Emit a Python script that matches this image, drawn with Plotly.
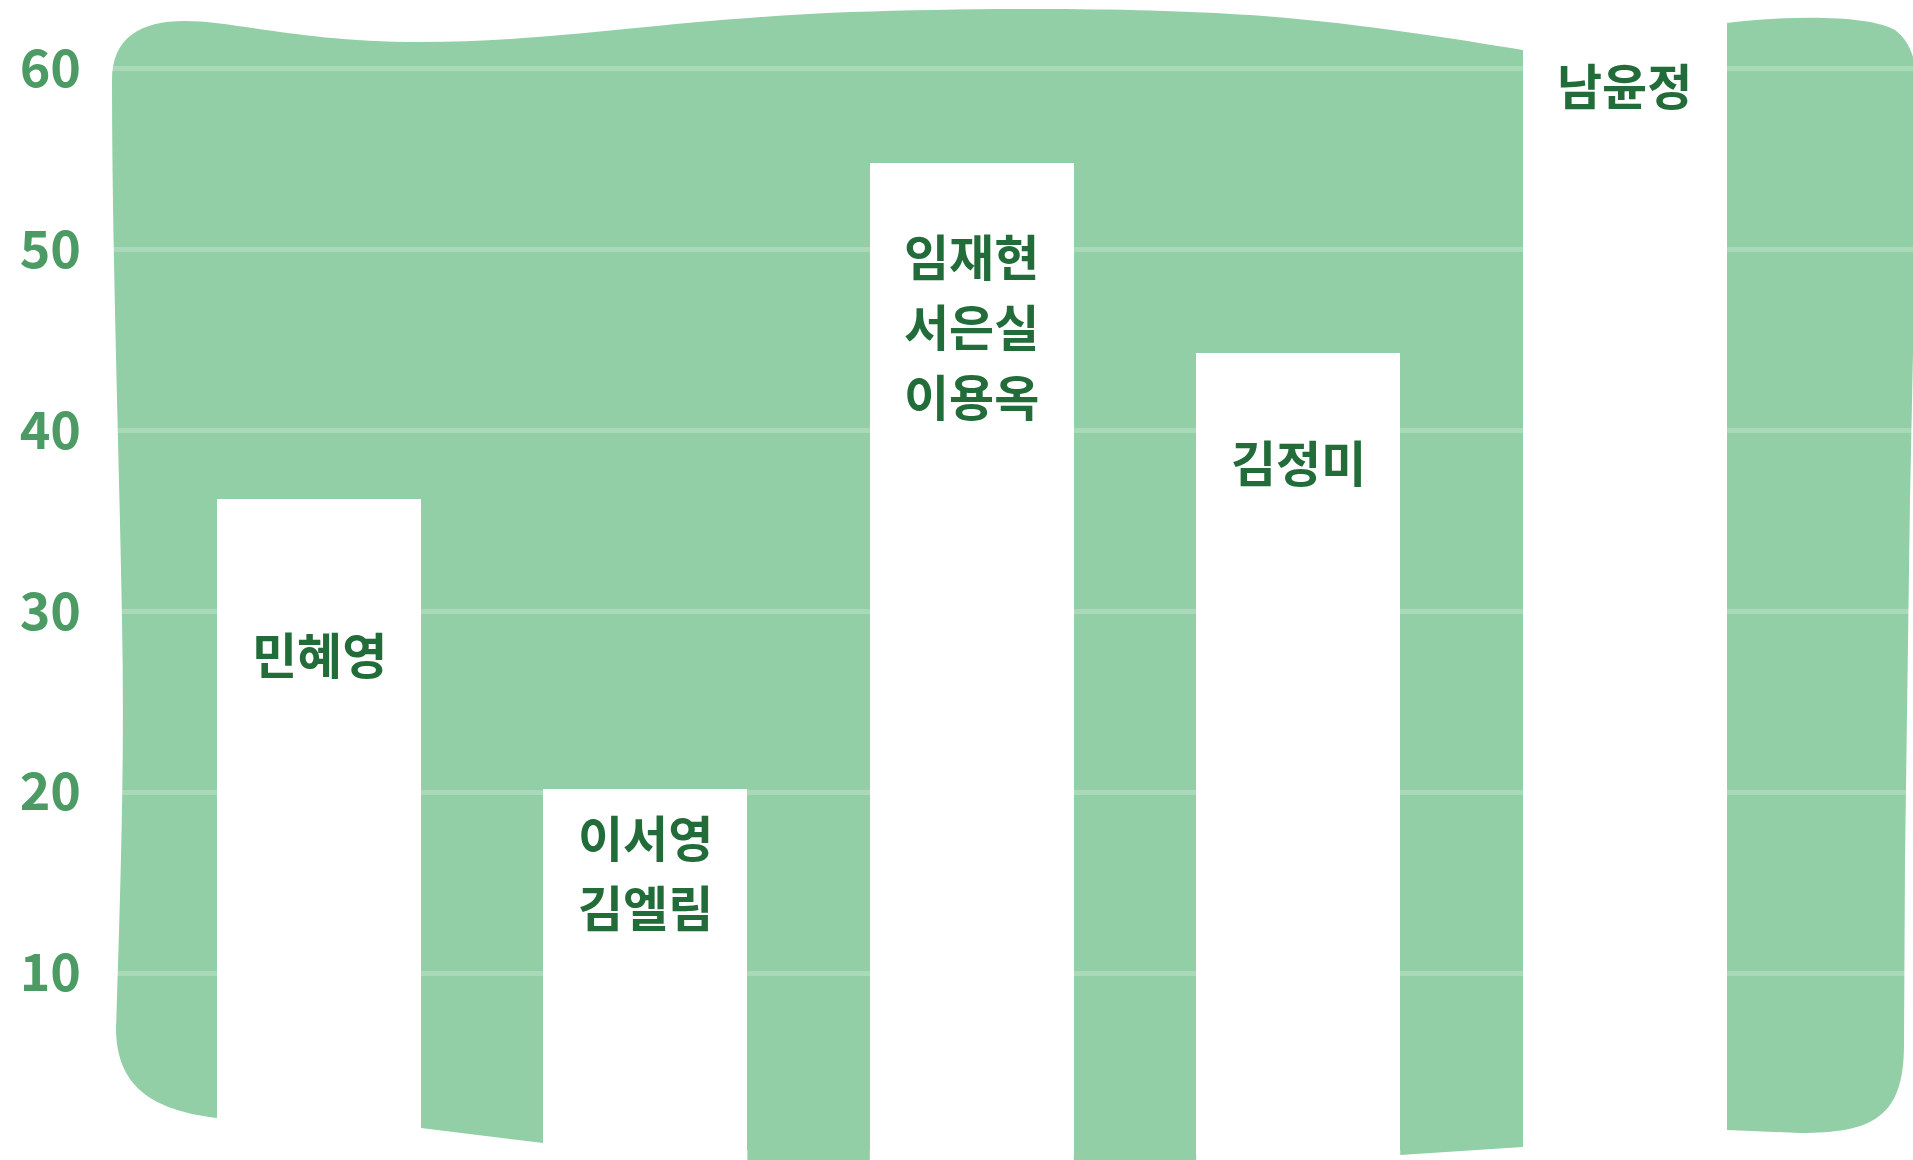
import plotly.graph_objects as go

# ---------------- data ----------------
groups = [
    ["민혜영"],
    ["이서영", "김엘림"],
    ["임재현", "서은실", "이용옥"],
    ["김정미"],
    ["남윤정"],
]
values = [36.2, 20.2, 54.8, 44.3, 66]
y_ticks = [10, 20, 30, 40, 50, 60]
y_tick_labels = ["10", "20", "30", "40", "50", "60"]

# ---------------- style / layout constants ----------------
W, H = 1913, 1160
ML, MR, MT, MB = 90, 0, 0, 6
PW, PH = W - ML - MR, H - MT - MB
UNIT_X = 326.4            # px per category
FIRST_X = 319             # px centre of first bar
PPU = 18.09               # px per y unit
BAR_WIDTH = 0.625
GREEN = "#93cfa6"
TICK_COLOR = "#4c9a64"
LABEL_COLOR = "#216c38"
FONT = "Noto Sans CJK KR"
LABEL_FIRST_OFFSET = [153, 47, 92, 108, 123]   # px from bar top to first line centre
LINE_STEP = 70                                  # px between label lines

x0 = -(FIRST_X - ML) / UNIT_X
x1 = x0 + PW / UNIT_X
y1 = PH / PPU

fig = go.Figure()
fig.add_trace(go.Bar(
    x=list(range(len(values))), y=values, width=BAR_WIDTH,
    marker=dict(color="white", line=dict(width=0)),
    hoverinfo="skip", showlegend=False,
))

# label annotations, one per line
for i, (names, v) in enumerate(zip(groups, values)):
    for k, name in enumerate(names):
        off = LABEL_FIRST_OFFSET[i] + k * LINE_STEP
        fig.add_annotation(
            x=i, y=v - off / PPU, xref="x", yref="y",
            text=name, showarrow=False, xanchor="center", yanchor="middle",
            font=dict(family=FONT, size=49, color=LABEL_COLOR, weight="bold"),
        )

# decorative wavy background (pixel outline -> paper coords)
def pt(px, py):
    return f"{(px - ML) / PW:.5f},{(MT + PH - py) / PH:.5f}"

half = BAR_WIDTH * UNIT_X / 2
lefts = [FIRST_X + i * UNIT_X - half for i in range(len(values))]
rights = [FIRST_X + i * UNIT_X + half for i in range(len(values))]
INSIDE = 1150   # hidden level under the bars

outline = [
    ("M", [(112, 80)]),
    ("C", [(112, 38), (140, 21), (185, 21)]),
    ("C", [(235, 21), (300, 42), (420, 42)]),
    ("C", [(560, 42), (660, 20), (850, 12)]),
    ("C", [(1000, 7), (1150, 8), (1250, 15)]),
    ("C", [(1350, 22), (1450, 38), (lefts[4], 50)]),
    ("L", [(rights[4] - 60, 50)]),
    ("L", [(rights[4], 23)]),
    ("C", [(1790, 15), (1870, 15), (1895, 30)]),
    ("C", [(1915, 45), (1918, 70), (1918, 110)]),
    ("L", [(1910, 500)]),
    ("L", [(1905, 860)]),
    ("L", [(1904, 1045)]),
    ("C", [(1904, 1118), (1872, 1133), (1800, 1133)]),
    ("L", [(rights[4], 1130)]),
    ("L", [(lefts[4], 1147)]),
    ("L", [(rights[3], 1155)]),
    ("L", [(rights[3], INSIDE)]),
    ("L", [(lefts[3], INSIDE)]),
    ("L", [(lefts[3], 1175)]),
    ("L", [(rights[2], 1175)]),
    ("L", [(rights[2], INSIDE)]),
    ("L", [(lefts[2], INSIDE)]),
    ("L", [(lefts[2], 1175)]),
    ("L", [(rights[1], 1175)]),
    ("L", [(rights[1], INSIDE)]),
    ("L", [(lefts[1], 1143)]),
    ("L", [(rights[0], 1128)]),
    ("L", [(lefts[0], 1118)]),
    ("C", [(150, 1110), (117, 1085), (116, 1030)]),
    ("C", [(120, 900), (125, 760), (122, 620)]),
    ("C", [(119, 450), (112, 250), (112, 80)]),
]
path = " ".join(cmd + " " + " ".join(pt(*p) for p in pts) for cmd, pts in outline) + " Z"
fig.add_shape(type="path", path=path, xref="paper", yref="paper",
              fillcolor=GREEN, line=dict(width=0), layer="below")

fig.update_layout(
    width=W, height=H,
    margin=dict(l=ML, r=MR, t=MT, b=MB, pad=0),
    paper_bgcolor="white", plot_bgcolor="rgba(0,0,0,0)",
    bargap=0,
    xaxis=dict(range=[x0, x1], showticklabels=False, showgrid=False,
               zeroline=False, showline=False, fixedrange=True),
    yaxis=dict(range=[0, y1], tickvals=y_ticks, ticktext=y_tick_labels,
               showgrid=True, gridcolor="rgba(255,255,255,0.22)", gridwidth=5,
               zeroline=False, showline=False, ticks="", ticklabelstandoff=8,
               tickfont=dict(family=FONT, size=52, color=TICK_COLOR, weight="bold"),
               fixedrange=True),
)

fig.write_html("out.html", config={"displayModeBar": False},
               post_script="document.body.style.margin='0';document.body.style.overflow='hidden';")
